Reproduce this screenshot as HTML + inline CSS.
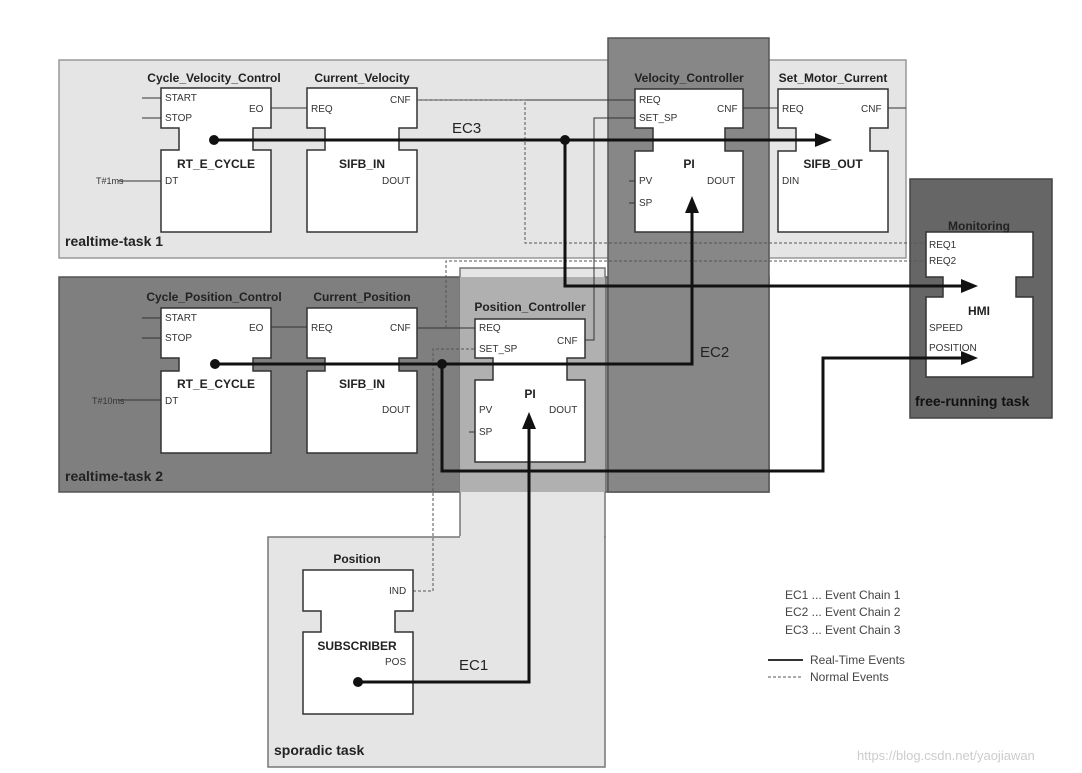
<!DOCTYPE html>
<html><head><meta charset="utf-8"><style>
html,body{margin:0;padding:0;background:#fff;}
svg{display:block;font-family:"Liberation Sans",Arial,sans-serif;}
.t{font-size:12px;font-weight:bold;fill:#222;text-anchor:middle;}
.p{font-size:10px;fill:#333;}
.n{font-size:12px;font-weight:bold;fill:#222;text-anchor:middle;}
.fb{fill:#fff;stroke:#333;stroke-width:1.5;}
.th{stroke:#111;stroke-width:3;fill:none;}
.tn{stroke:#333;stroke-width:1;fill:none;}
.ds{stroke:#555;stroke-width:1;stroke-dasharray:3,2;fill:none;}
.lg{font-size:12px;fill:#444;}
</style></head><body>
<svg width="1082" height="773" viewBox="0 0 1082 773">
<!-- regions -->
<rect x="59" y="60" width="847" height="198" fill="#e5e5e5" stroke="#999" stroke-width="1.5"/>
<rect x="59" y="277" width="710" height="215" fill="#7f7f7f" stroke="#555" stroke-width="1.5"/>
<rect x="460" y="268" width="145" height="269" fill="#e5e5e5" stroke="#777" stroke-width="1.5"/>
<rect x="460" y="277" width="145" height="215" fill="#b0b0b0"/>
<rect x="268" y="537" width="337" height="230" fill="#e5e5e5" stroke="#777" stroke-width="1.5"/>
<rect x="460" y="536" width="144" height="3" fill="#e5e5e5"/>
<rect x="608" y="38" width="161" height="454" fill="#878787" stroke="#555" stroke-width="1.5"/>
<rect x="910" y="179" width="142" height="239" fill="#666" stroke="#444" stroke-width="1.5"/>

<text x="65" y="246" style="font-size:14px;font-weight:bold;fill:#222">realtime-task 1</text>
<text x="65" y="481" style="font-size:14px;font-weight:bold;fill:#222">realtime-task 2</text>
<text x="274" y="755" style="font-size:14px;font-weight:bold;fill:#222">sporadic task</text>
<text x="915" y="406" style="font-size:14px;font-weight:bold;fill:#111">free-running task</text>

<!-- thin connectors -->
<path class="tn" d="M142 98H161M142 118H161M118 181H161M271 108H307M417 100H635M743 108H778M888 108H906"/>
<path class="tn" d="M142 318H161M142 338H161M118 400H161M271 327H307M417 328H475M585 340H594V118H635"/>
<path class="tn" d="M629 181H635M629 203H635M469 432H475"/>
<!-- dashed -->
<path class="ds" d="M417 100H525V243H926"/>
<path class="ds" d="M446 328V261H926"/>
<path class="ds" d="M413 591H433V349H475"/>

<!-- blocks -->
<path class="fb" d="M161 88H271V128H253V150H271V232H161V150H179V128H161Z"/>
<path class="fb" d="M307 88H417V128H399V150H417V232H307V150H325V128H307Z"/>
<path class="fb" d="M635 89H743V128H725V151H743V232H635V151H653V128H635Z"/>
<path class="fb" d="M778 89H888V128H870V151H888V232H778V151H796V128H778Z"/>
<path class="fb" d="M926 232H1033V277H1016V297H1033V377H926V297H943V277H926Z"/>
<path class="fb" d="M161 308H271V358H253V371H271V453H161V371H179V358H161Z"/>
<path class="fb" d="M307 308H417V358H399V371H417V453H307V371H325V358H307Z"/>
<path class="fb" d="M475 319H585V358H567V380H585V462H475V380H493V358H475Z"/>
<path class="fb" d="M303 570H413V611H395V632H413V714H303V632H321V611H303Z"/>

<!-- titles -->
<text class="t" x="214" y="82">Cycle_Velocity_Control</text>
<text class="t" x="362" y="82">Current_Velocity</text>
<text class="t" x="689" y="82">Velocity_Controller</text>
<text class="t" x="833" y="82">Set_Motor_Current</text>
<text class="t" x="979" y="230">Monitoring</text>
<text class="t" x="214" y="301">Cycle_Position_Control</text>
<text class="t" x="362" y="301">Current_Position</text>
<text class="t" x="530" y="311">Position_Controller</text>
<text class="t" x="357" y="563">Position</text>

<!-- ports -->
<g class="p">
<text x="165" y="101">START</text><text x="165" y="121">STOP</text><text x="249" y="112">EO</text>
<text x="165" y="184">DT</text><text x="96" y="184" style="font-size:9px">T#1ms</text>
<text x="311" y="112">REQ</text><text x="390" y="103">CNF</text><text x="382" y="184">DOUT</text>
<text x="639" y="103">REQ</text><text x="639" y="121">SET_SP</text><text x="717" y="112">CNF</text>
<text x="639" y="184">PV</text><text x="639" y="206">SP</text><text x="707" y="184">DOUT</text>
<text x="782" y="112">REQ</text><text x="861" y="112">CNF</text><text x="782" y="184">DIN</text>
<text x="929" y="248">REQ1</text><text x="929" y="264">REQ2</text>
<text x="929" y="331">SPEED</text><text x="929" y="351">POSITION</text>
<text x="165" y="321">START</text><text x="165" y="341">STOP</text><text x="249" y="331">EO</text>
<text x="165" y="404">DT</text><text x="92" y="404" style="font-size:9px">T#10ms</text>
<text x="311" y="331">REQ</text><text x="390" y="331">CNF</text><text x="382" y="413">DOUT</text>
<text x="479" y="331">REQ</text><text x="479" y="352">SET_SP</text><text x="557" y="344">CNF</text>
<text x="479" y="413">PV</text><text x="479" y="435">SP</text><text x="549" y="413">DOUT</text>
<text x="389" y="594">IND</text><text x="385" y="665">POS</text>
</g>
<g class="n">
<text x="216" y="168">RT_E_CYCLE</text><text x="362" y="168">SIFB_IN</text>
<text x="689" y="168">PI</text><text x="833" y="168">SIFB_OUT</text>
<text x="979" y="315">HMI</text>
<text x="216" y="388">RT_E_CYCLE</text><text x="362" y="388">SIFB_IN</text>
<text x="530" y="398">PI</text>
<text x="357" y="650">SUBSCRIBER</text>
</g>

<!-- thick event chains -->
<path class="th" d="M214 140H818"/>
<polygon points="832,140 815,133 815,147" fill="#111"/>
<path class="th" d="M565 140V286H962"/>
<polygon points="978,286 961,279 961,293" fill="#111"/>
<path class="th" d="M215 364H692V212"/>
<polygon points="692,196 685,213 699,213" fill="#111"/>
<path class="th" d="M442 364V471H823V358H962"/>
<polygon points="978,358 961,351 961,365" fill="#111"/>
<path class="th" d="M358 682H529V428"/>
<polygon points="529,412 522,429 536,429" fill="#111"/>
<circle cx="214" cy="140" r="5" fill="#111"/>
<circle cx="565" cy="140" r="5" fill="#111"/>
<circle cx="215" cy="364" r="5" fill="#111"/>
<circle cx="442" cy="364" r="5" fill="#111"/>
<circle cx="358" cy="682" r="5" fill="#111"/>

<text x="452" y="133" style="font-size:15px;fill:#222">EC3</text>
<text x="700" y="357" style="font-size:15px;fill:#222">EC2</text>
<text x="459" y="670" style="font-size:15px;fill:#222">EC1</text>

<!-- legend -->
<text class="lg" x="785" y="599">EC1 ... Event Chain 1</text>
<text class="lg" x="785" y="616">EC2 ... Event Chain 2</text>
<text class="lg" x="785" y="634">EC3 ... Event Chain 3</text>
<path d="M768 660H803" stroke="#333" stroke-width="2"/>
<path d="M768 677H803" stroke="#555" stroke-width="1" stroke-dasharray="3,2"/>
<text class="lg" x="810" y="664">Real-Time Events</text>
<text class="lg" x="810" y="681">Normal Events</text>
<text x="857" y="760" style="font-size:13px;fill:#ccc">https://blog.csdn.net/yaojiawan</text>
</svg>
</body></html>
